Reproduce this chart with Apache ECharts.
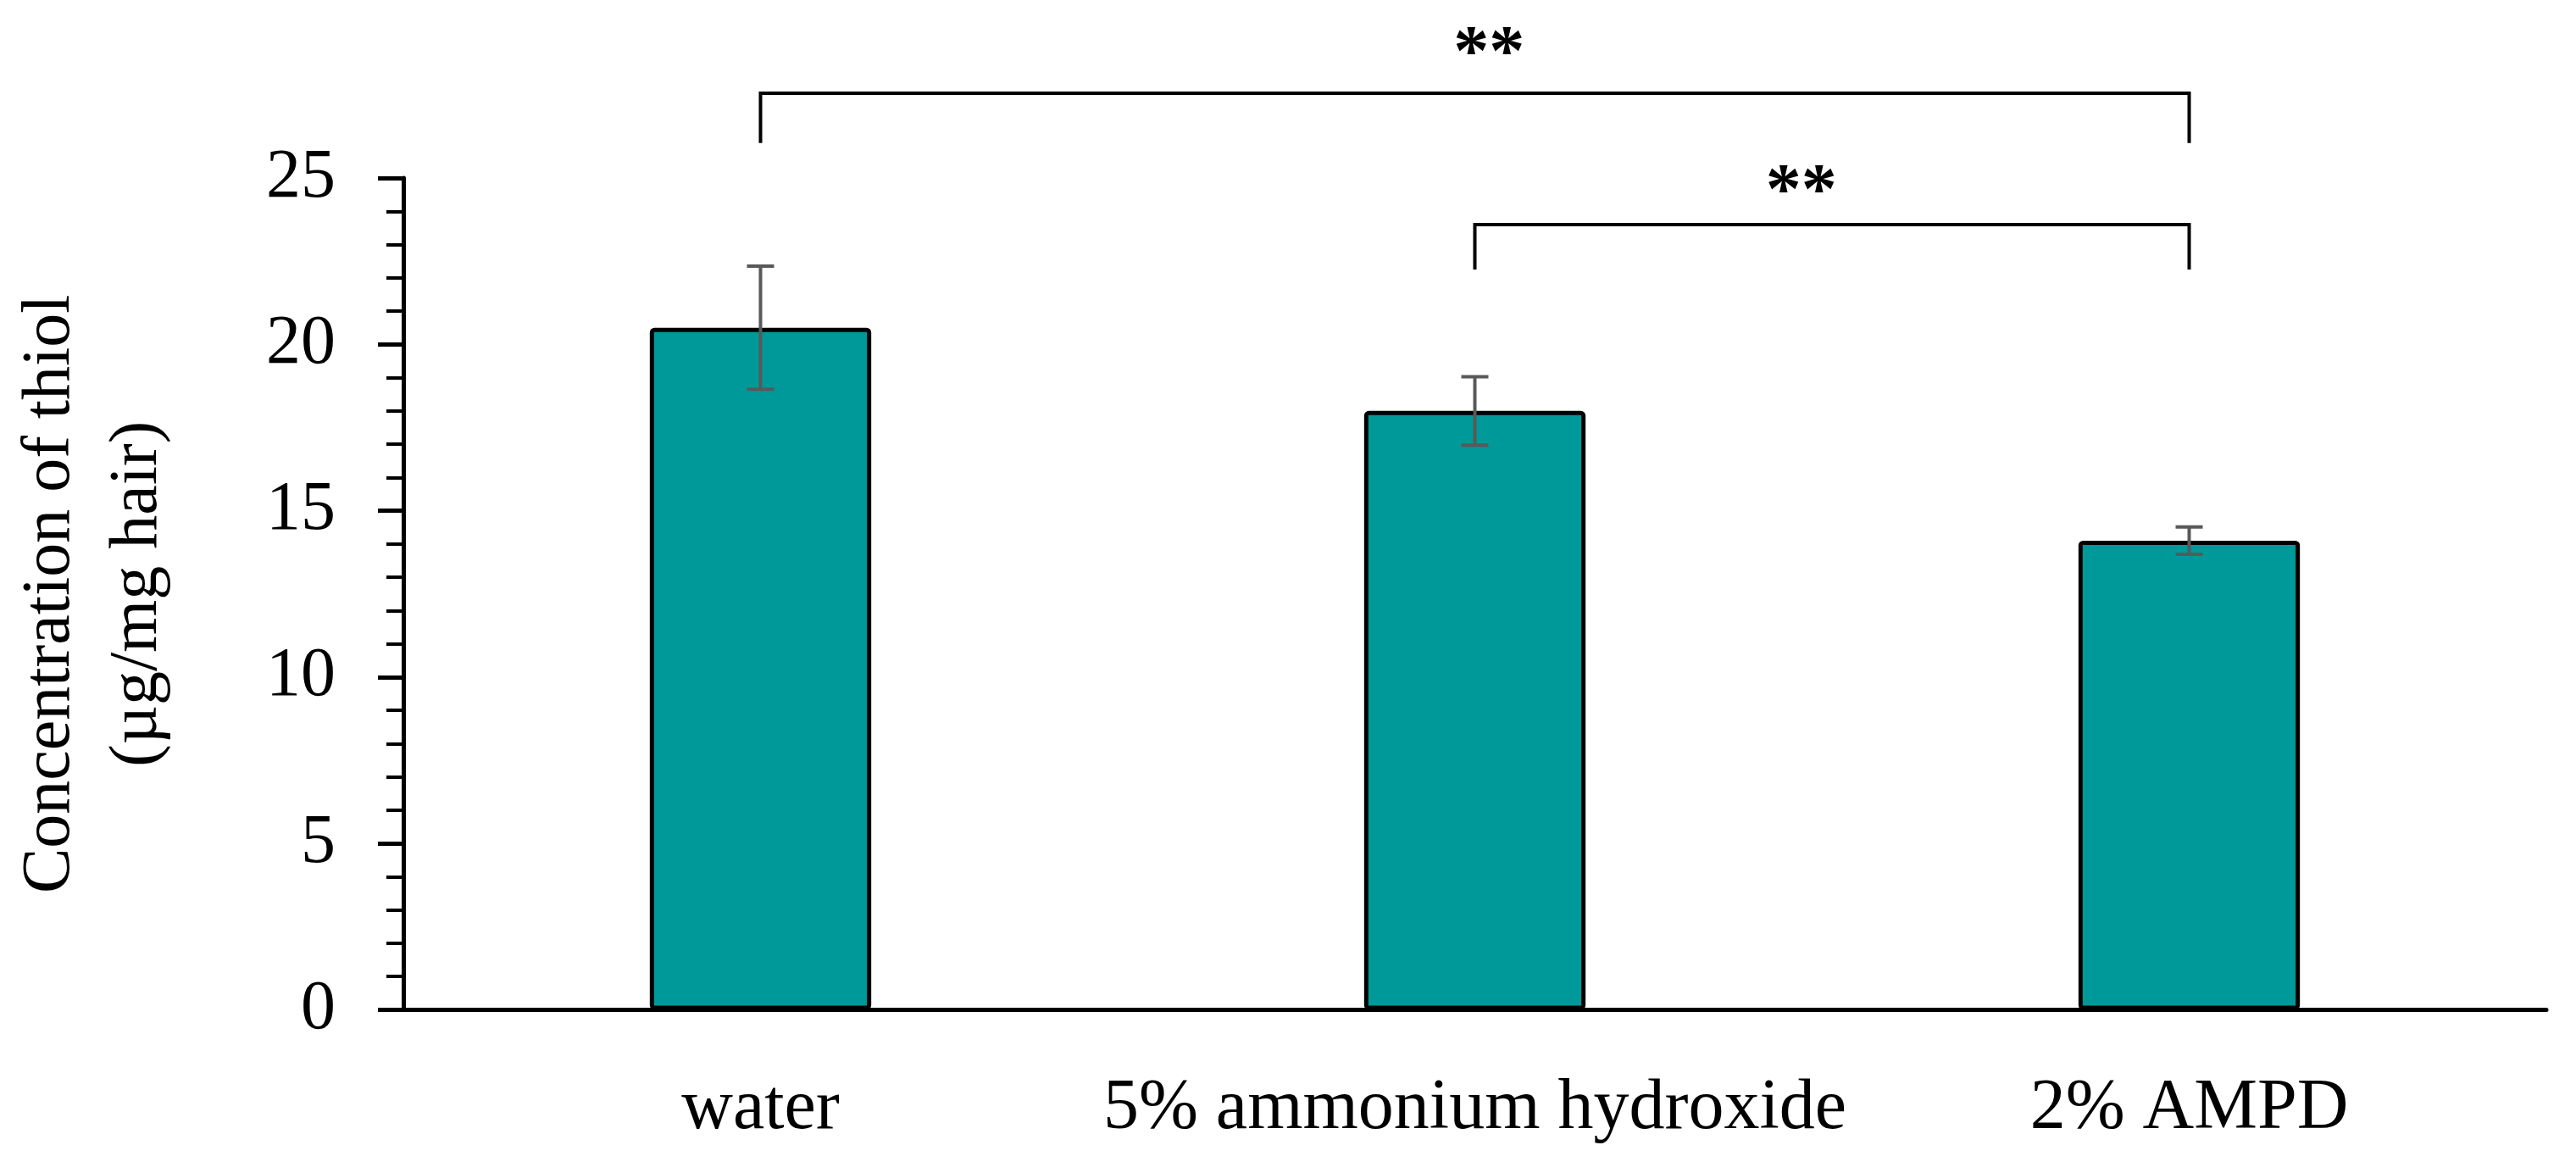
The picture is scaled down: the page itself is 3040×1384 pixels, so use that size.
<!DOCTYPE html>
<html><head><meta charset="utf-8">
<script src="https://cdn.jsdelivr.net/npm/echarts@6/dist/echarts.min.js"></script>
<style>html,body{margin:0;padding:0;background:#fff}#c{width:3040px;height:1384px}</style>
</head><body><div id="c"></div>
<script>
// ---- data ----
const categories = ['water', '5% ammonium hydroxide', '2% AMPD'];
const means = [20.5, 18.0, 14.1];
const errors = [1.85, 1.03, 0.41];
const yMin = 0, yMax = 25, yInterval = 5;
const yTitle = 'Concentration of thiol\n(µg/mg hair)';
// significance brackets (category index from/to, bar level, leg end, label, label level, label shift in bands)
const bracketFrom = [0, 1];
const bracketTo = [2, 2];
const bracketLevel = [27.55, 23.6];
const bracketLegEnd = [26.05, 22.25];
const bracketText = ['**', '**'];
const bracketTextLevel = [28.65, 24.52];
const bracketTextShift = [0.02, -0.043];

const FONT = '"Liberation Serif", "Times New Roman", serif';

const errData = categories.map((c, i) => [i, means[i] - errors[i], means[i] + errors[i]]);
const brData = bracketFrom.map((f, i) => [f, bracketTo[i], bracketLevel[i], bracketLegEnd[i], bracketTextLevel[i], bracketTextShift[i]]);

const chart = echarts.init(document.getElementById('c'), null, {renderer: 'canvas'});
chart.setOption({
  animation: false,
  backgroundColor: '#fff',
  grid: {left: 472, right: 35, top: 210, bottom: 192.5},
  xAxis: {
    type: 'category', data: categories,
    axisLine: {show: true, lineStyle: {color: '#000', width: 5}},
    axisTick: {show: false},
    axisLabel: {color: '#000', fontSize: 84, fontFamily: FONT, margin: 75, interval: 0}
  },
  yAxis: {
    type: 'value', min: yMin, max: yMax, interval: yInterval,
    name: yTitle, nameLocation: 'middle', nameGap: 262,
    nameTextStyle: {color: '#000', fontSize: 80, fontFamily: FONT, lineHeight: 103},
    axisLine: {show: true, lineStyle: {color: '#000', width: 5}},
    axisTick: {show: true, inside: false, length: 30, lineStyle: {color: '#000', width: 5}},
    minorTick: {show: true, splitNumber: 5, length: 20, lineStyle: {color: '#000', width: 4}},
    splitLine: {show: false},
    axisLabel: {color: '#000', fontSize: 82, fontFamily: FONT, margin: 80}
  },
  series: [
    {
      type: 'bar', data: means, barWidth: '31%',
      itemStyle: {color: '#009999', borderColor: '#000', borderWidth: 5, borderRadius: 3},
      z: 2
    },
    {
      type: 'custom', data: errData, z: 3,
      encode: {x: 0, y: [1, 2]},
      renderItem: function (params, api) {
        const lo = api.coord([api.value(0), api.value(1)]);
        const hi = api.coord([api.value(0), api.value(2)]);
        const hw = 16;
        const st = {stroke: '#595959', lineWidth: 4, fill: null};
        return {type: 'group', children: [
          {type: 'line', shape: {x1: lo[0], y1: lo[1], x2: hi[0], y2: hi[1]}, style: st},
          {type: 'line', shape: {x1: lo[0] - hw, y1: lo[1], x2: lo[0] + hw, y2: lo[1]}, style: st},
          {type: 'line', shape: {x1: hi[0] - hw, y1: hi[1], x2: hi[0] + hw, y2: hi[1]}, style: st}
        ]};
      }
    },
    {
      type: 'custom', data: brData, z: 4, clip: false,
      encode: {x: [0, 1], y: [2, 3]},
      renderItem: function (params, api) {
        const a = api.coord([api.value(0), api.value(2)]);
        const b = api.coord([api.value(1), api.value(2)]);
        const aEnd = api.coord([api.value(0), api.value(3)]);
        const t = api.coord([api.value(0), api.value(4)]);
        const band = api.size([1, 0])[0];
        const tx = (a[0] + b[0]) / 2 + api.value(5) * band;
        return {type: 'group', children: [
          {type: 'polyline', shape: {points: [[a[0], aEnd[1]], [a[0], a[1]], [b[0], b[1]], [b[0], aEnd[1]]]},
           style: {stroke: '#000', lineWidth: 4, fill: null, lineJoin: 'miter'}},
          {type: 'text', x: tx, y: t[1], style: {text: bracketText[params.dataIndex], fill: '#000',
            font: 'bold 84px ' + FONT, align: 'center', verticalAlign: 'middle'}}
        ]};
      }
    }
  ]
});
</script></body></html>
